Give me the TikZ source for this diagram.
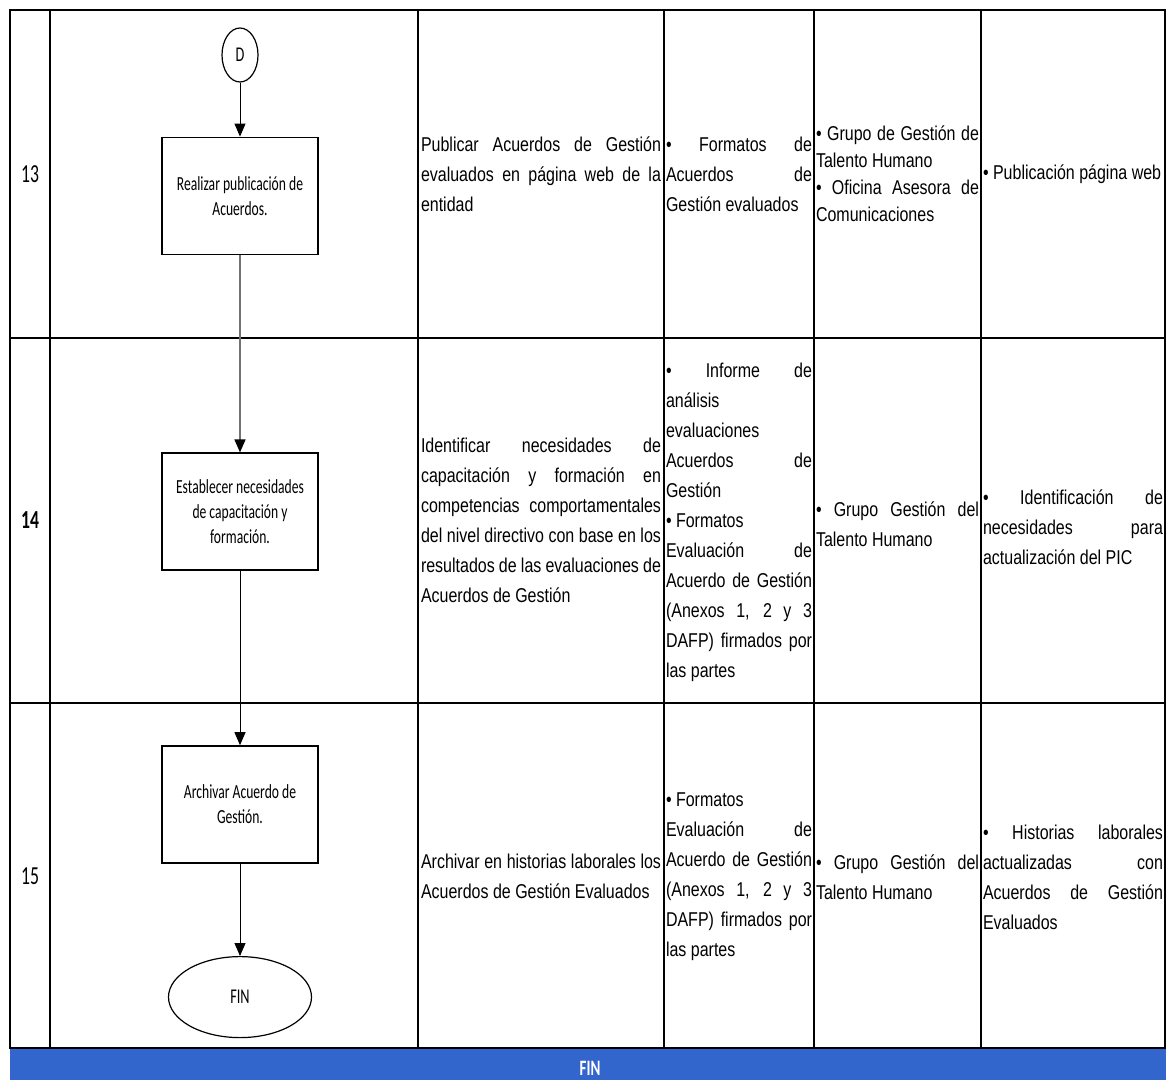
\documentclass[tikz,border=0pt]{standalone}
\usepackage{fontspec}
\setmainfont{Liberation Sans}[FakeStretch=0.8]
\newfontfamily\calib{Carlito}[FakeStretch=0.68]
\usetikzlibrary{positioning}
\usetikzlibrary {arrows.meta}
\usetikzlibrary{shapes.geometric}
\definecolor{finblue}{RGB}{51,102,204}
\hyphenpenalty=10000
\exhyphenpenalty=10000
\tolerance=10000
\hbadness=10000

\begin{document}
\begin{tikzpicture}[x=1pt,y=-1pt,
    proc/.style={draw,line width=1.8pt,minimum width=156pt,minimum height=117pt,inner sep=0pt,align=center,font=\calib\fontsize{20}{25}\selectfont},
    term/.style={draw,ellipse,line width=1.2pt,inner sep=0pt,font=\calib\fontsize{21}{24}\selectfont},
    flow/.style={line width=0.9pt,-{Triangle[width=11pt,length=13pt,color=black]}},
    cell/.style={text width=#1,align=justify,inner sep=0pt,anchor=center,font=\fontsize{20}{30}\selectfont},
    num/.style={font=\calib\fontsize{26}{30}\selectfont}]
    \useasboundingbox (0,0) rectangle (1166,1080);
    %% tabla
    \fill[finblue] (10,1048) rectangle (1166,1080);
    \draw[line width=2pt] (10,10) rectangle (1165,1048);
    \foreach \x in {50,418,664,814,981}
        \draw[line width=2pt] (\x,10) -- (\x,1048);
    \foreach \y in {338,703,1048}
        \draw[line width=2.6pt] (10,\y) -- (1165,\y);
    \node[font=\calib\bfseries\fontsize{22}{22}\selectfont,text=white] (finband) at (590,1068) {FIN};

    \node[num] (n13) at (30,174) {13};
    \node[font=\calib\bfseries\fontsize{26}{30}\selectfont] (n14) at (30,520) {14};
    \node[num] (n15) at (30,876) {15};

    %% fila 13
    \node[cell=240pt] (a13) at (541,174) {Publicar Acuerdos de Gestión\linebreak evaluados en página web de la\linebreak entidad};
    \node[cell=146pt] (b13) at (739,174) {• Formatos de\linebreak Acuerdos de\linebreak Gestión evaluados};
    \node[cell=163pt,font=\fontsize{20}{27}\selectfont] (c13) at (897.5,174) {• Grupo de Gestión de\linebreak Talento Humano\\ • Oficina Asesora de\linebreak Comunicaciones};
    \node[cell=180pt] (d13) at (1073,174) {• Publicación página web};

    %% fila 14
    \node[cell=240pt] (a14) at (541,520) {Identificar necesidades de\linebreak capacitación y formación en\linebreak competencias comportamentales\linebreak del nivel directivo con base en los\linebreak resultados de las evaluaciones de\linebreak Acuerdos de Gestión};
    \node[cell=146pt] (b14) at (739,522) {• Informe de\linebreak análisis\linebreak evaluaciones\linebreak Acuerdos de\linebreak Gestión\\ • Formatos\\ Evaluación de\linebreak Acuerdo de Gestión\linebreak (Anexos 1, 2 y 3\linebreak DAFP) firmados por\linebreak las partes};
    \node[cell=163pt] (c14) at (897.5,524) {• Grupo Gestión del\linebreak Talento Humano};
    \node[cell=180pt] (d14) at (1073,527) {• Identificación de\linebreak necesidades para\linebreak actualización del PIC};

    %% fila 15
    \node[cell=240pt] (a15) at (541,876) {Archivar en historias laborales los\linebreak Acuerdos de Gestión Evaluados};
    \node[cell=146pt] (b15) at (739,877) {• Formatos\\ Evaluación de\linebreak Acuerdo de Gestión\linebreak (Anexos 1, 2 y 3\linebreak DAFP) firmados por\linebreak las partes};
    \node[cell=163pt] (c15) at (897.5,877) {• Grupo Gestión del\linebreak Talento Humano};
    \node[cell=180pt] (d15) at (1073,877) {• Historias laborales\linebreak actualizadas con\linebreak Acuerdos de Gestión\linebreak Evaluados};

    %% flujo
    \node[term,minimum width=36pt,minimum height=54pt] (d) at (240,55) {D};
    \node[proc,below=54pt of d] (p13) {Realizar publicación de\\Acuerdos.};
    \node[proc,below=197pt of p13] (p14) {Establecer necesidades\\de capacitación y\\formación.};
    \node[proc,below=174pt of p14] (p15) {Archivar Acuerdo de\\Gestión.};
    \node[term,minimum width=143pt,minimum height=81pt,below=92pt of p15] (fin) {FIN};

    \draw[flow] (d) -- (p13);
    \draw[flow,draw=black!55,line width=1.5pt] (p13) -- (p14);
    \draw[flow] (p14) -- (p15);
    \draw[flow] (p15) -- (fin);
\end{tikzpicture}
\end{document}
